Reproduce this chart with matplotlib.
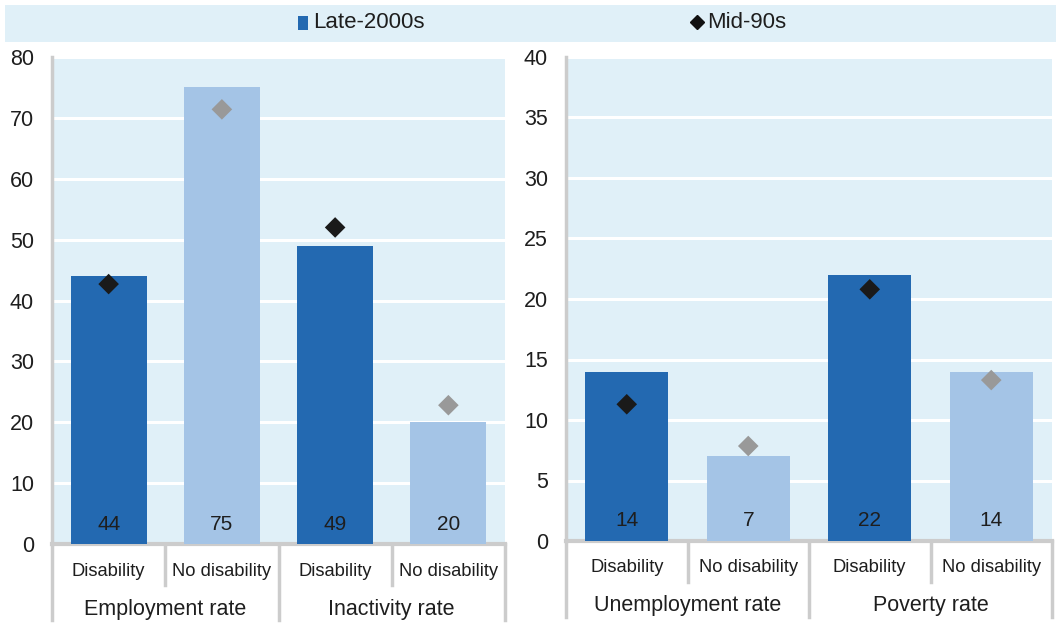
import matplotlib
matplotlib.use("Agg")
import matplotlib.pyplot as plt
import matplotlib.transforms as mtransforms
from matplotlib.patches import Rectangle
from matplotlib.lines import Line2D

plt.rcParams['font.family'] = ['Liberation Sans', 'DejaVu Sans']

# Sub-categories repeated within each group
sub_labels = ["Disability", "No disability"]

# Left panel: employment / inactivity (%)
left_groups = ["Employment rate", "Inactivity rate"]
left_late2000s = [44, 75, 49, 20]
left_mid90s = [42.7, 71.4, 52.0, 22.8]
left_ticks = [0, 10, 20, 30, 40, 50, 60, 70, 80]

# Right panel: unemployment / poverty (%)
right_groups = ["Unemployment rate", "Poverty rate"]
right_late2000s = [14, 7, 22, 14]
right_mid90s = [11.3, 7.85, 20.8, 13.3]
right_ticks = [0, 5, 10, 15, 20, 25, 30, 35, 40]

W, H = 1056, 623
DARK = "#2369b1"
LIGHT = "#a4c4e6"
BG = "#e0f0f8"
AXIS = "#cccccc"
TEXT = "#1e1e1e"
DIAMOND_DARK = "#1a1a1a"
DIAMOND_LIGHT = "#999999"

fig = plt.figure(figsize=(W / 100, H / 100), dpi=100)
fig.patch.set_facecolor("white")


def px_axes(x0, y0, x1, y1):
    return fig.add_axes([x0 / W, 1 - y1 / H, (x1 - x0) / W, (y1 - y0) / H])


def draw_panel(ax, late, mid, ticks, groups, bar_width, panel_h_px):
    n = len(late)
    xs = list(range(n))
    colors = [DARK if i % 2 == 0 else LIGHT for i in xs]
    dcolors = [DIAMOND_DARK if i % 2 == 0 else DIAMOND_LIGHT for i in xs]

    ax.set_facecolor(BG)
    ax.set_xlim(-0.5, n - 0.5)
    ax.set_ylim(ticks[0], ticks[-1])
    ax.set_yticks(ticks)
    ax.set_yticklabels([str(t) for t in ticks], fontsize=15.5, color=TEXT)
    ax.tick_params(axis="y", length=0, pad=13)
    ax.set_xticks([])
    ax.yaxis.grid(True, color="white", linewidth=2.2)
    ax.set_axisbelow(True)
    for s in ("top", "right"):
        ax.spines[s].set_visible(False)
    ax.spines["left"].set_color(AXIS)
    ax.spines["left"].set_linewidth(2.5)
    ax.spines["bottom"].set_color(AXIS)
    ax.spines["bottom"].set_linewidth(3)

    ax.bar(xs, late, width=bar_width, color=colors, zorder=3)
    ax.scatter(xs, mid, marker="D", s=110, color=dcolors, zorder=4, linewidths=0)

    trans = mtransforms.blended_transform_factory(ax.transData, ax.transAxes)
    for x, v in zip(xs, late):
        ax.text(x, 20 / panel_h_px, f"{v:g}", transform=trans, ha="center",
                va="center", fontsize=15, color=TEXT, zorder=5)

    # Category separators below the axis
    short = -41 / panel_h_px
    long_ = -76 / panel_h_px
    for b in range(n + 1):
        xb = b - 0.5
        y_end = long_ if b % 2 == 0 else short
        ax.add_line(Line2D([xb, xb], [0, y_end], transform=trans, color=AXIS,
                           linewidth=2.5, clip_on=False, zorder=1))
    for x in xs:
        ax.text(x, -27 / panel_h_px, sub_labels[x % 2], transform=trans,
                ha="center", va="center", fontsize=13.2, color=TEXT)
    for g, name in enumerate(groups):
        ax.text(2 * g + 0.5, -65 / panel_h_px, name, transform=trans,
                ha="center", va="center", fontsize=15.5, color=TEXT)


# Legend band across the top
fig.patches.append(Rectangle((5 / W, 1 - 42 / H), 1 - 5 / W, 37 / H,
                             transform=fig.transFigure, facecolor=BG,
                             edgecolor="none", zorder=0))
fig.patches.append(Rectangle((298 / W, 1 - 30 / H), 10 / W, 14 / H,
                             transform=fig.transFigure, facecolor=DARK,
                             edgecolor="none", zorder=1))
fig.text(313 / W, 1 - 23 / H, "Late-2000s", fontsize=16, va="center",
         ha="left", color=TEXT)
fig.add_artist(Line2D([697 / W], [1 - 22 / H], marker="D", markersize=7,
                      color="#111111", linestyle="none",
                      transform=fig.transFigure))
fig.text(707 / W, 1 - 22 / H, "Mid-90s", fontsize=16, va="center",
         ha="left", color=TEXT)

ax_l = px_axes(52, 57, 505, 544)
draw_panel(ax_l, left_late2000s, left_mid90s, left_ticks, left_groups,
           0.67, 487)

ax_r = px_axes(566, 57, 1052, 541)
draw_panel(ax_r, right_late2000s, right_mid90s, right_ticks, right_groups,
           0.68, 484)

fig.savefig("out.png", dpi=100, facecolor="white")
